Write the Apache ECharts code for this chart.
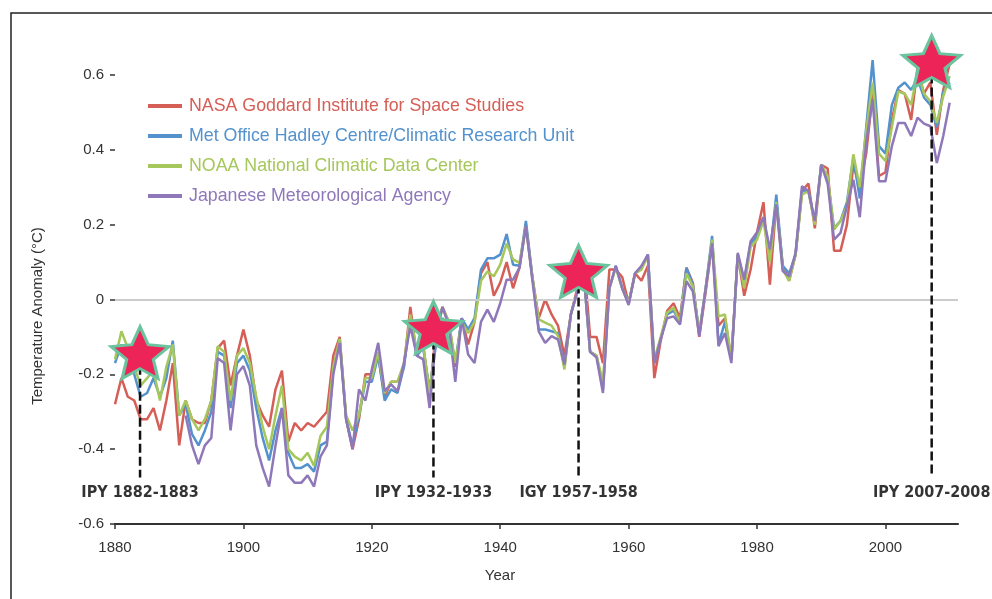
<!DOCTYPE html>
<html><head><meta charset="utf-8">
<script src="https://cdn.jsdelivr.net/npm/echarts@6/dist/echarts.min.js"></script>
<style>html,body{margin:0;padding:0;background:#fff}#c{width:992px;height:599px}</style>
</head><body><div id="c"></div>
<script>
const startYear = 1880;
const seriesNames = ['NASA Goddard Institute for Space Studies','Met Office Hadley Centre/Climatic Research Unit','NOAA National Climatic Data Center','Japanese Meteorological Agency'];
const colors = ['#d55e56','#5492ce','#a6c75b','#8f78ba'];
const nasa = [
-0.28,-0.21,-0.26,-0.27,-0.32,-0.32,-0.29,-0.35,-0.27,-0.17,
-0.39,-0.27,-0.32,-0.33,-0.33,-0.27,-0.13,-0.11,-0.23,-0.15,
-0.08,-0.15,-0.27,-0.31,-0.34,-0.24,-0.19,-0.38,-0.33,-0.35,
-0.33,-0.34,-0.32,-0.30,-0.15,-0.10,-0.32,-0.40,-0.32,-0.20,
-0.20,-0.15,-0.26,-0.22,-0.22,-0.18,-0.02,-0.15,-0.12,-0.26,
-0.08,-0.02,-0.06,-0.18,-0.05,-0.12,-0.06,0.07,0.10,0.01,
0.045,0.10,0.03,0.085,0.20,0.06,-0.05,0.00,-0.04,-0.07,
-0.15,-0.04,0.03,0.11,-0.10,-0.10,-0.17,0.08,0.08,0.06,
-0.01,0.07,0.05,0.09,-0.21,-0.11,-0.03,-0.01,-0.05,0.085,
0.045,-0.10,0.02,0.15,-0.07,-0.05,-0.16,0.12,0.01,0.08,
0.18,0.26,0.04,0.26,0.09,0.05,0.12,0.29,0.31,0.19,
0.36,0.35,0.13,0.13,0.20,0.36,0.30,0.39,0.55,0.33,
0.34,0.48,0.56,0.55,0.48,0.62,0.55,0.58,0.44,0.56,
0.63];
const hadley = [
-0.17,-0.12,-0.16,-0.20,-0.26,-0.25,-0.21,-0.26,-0.21,-0.11,
-0.31,-0.28,-0.36,-0.39,-0.35,-0.30,-0.14,-0.15,-0.29,-0.17,
-0.15,-0.19,-0.29,-0.37,-0.43,-0.35,-0.29,-0.41,-0.45,-0.45,
-0.44,-0.46,-0.39,-0.38,-0.19,-0.11,-0.32,-0.39,-0.31,-0.22,
-0.22,-0.15,-0.27,-0.24,-0.25,-0.18,-0.05,-0.15,-0.13,-0.24,
-0.12,-0.05,-0.07,-0.17,-0.05,-0.08,-0.05,0.08,0.11,0.11,
0.12,0.175,0.093,0.09,0.21,0.062,-0.08,-0.08,-0.085,-0.09,
-0.18,-0.04,0.02,0.07,-0.14,-0.15,-0.24,0.03,0.09,0.03,
-0.01,0.07,0.085,0.12,-0.17,-0.105,-0.04,-0.03,-0.06,0.085,
0.04,-0.09,0.03,0.17,-0.12,-0.06,-0.16,0.12,0.05,0.15,
0.17,0.22,0.12,0.28,0.09,0.07,0.12,0.29,0.29,0.21,
0.36,0.32,0.19,0.21,0.26,0.38,0.27,0.46,0.64,0.41,
0.39,0.52,0.566,0.58,0.56,0.59,0.54,0.52,0.46,0.555,
0.58];
const noaa = [
-0.16,-0.085,-0.13,-0.18,-0.23,-0.21,-0.19,-0.27,-0.18,-0.12,
-0.31,-0.27,-0.32,-0.35,-0.32,-0.27,-0.125,-0.14,-0.27,-0.15,
-0.13,-0.17,-0.26,-0.34,-0.40,-0.31,-0.23,-0.40,-0.42,-0.43,
-0.41,-0.445,-0.365,-0.34,-0.18,-0.105,-0.31,-0.35,-0.31,-0.21,
-0.21,-0.14,-0.25,-0.22,-0.22,-0.17,-0.04,-0.14,-0.12,-0.25,
-0.10,-0.02,-0.06,-0.17,-0.06,-0.09,-0.06,0.05,0.075,0.062,
0.093,0.15,0.107,0.098,0.196,0.06,-0.053,-0.062,-0.07,-0.098,
-0.187,-0.04,0.02,0.07,-0.14,-0.15,-0.22,0.03,0.085,0.03,
-0.01,0.07,0.08,0.115,-0.16,-0.10,-0.035,-0.022,-0.06,0.07,
0.035,-0.09,0.03,0.16,-0.045,-0.04,-0.16,0.12,0.03,0.14,
0.16,0.21,0.10,0.26,0.08,0.05,0.12,0.28,0.29,0.20,
0.36,0.33,0.187,0.21,0.25,0.388,0.30,0.45,0.58,0.39,
0.37,0.46,0.556,0.55,0.52,0.61,0.55,0.53,0.472,0.543,
0.597];
const jma = [
null,null,null,null,null,null,null,null,null,null,
null,-0.31,-0.39,-0.44,-0.39,-0.37,-0.157,-0.17,-0.35,-0.20,
-0.178,-0.23,-0.39,-0.45,-0.50,-0.39,-0.29,-0.47,-0.49,-0.49,
-0.47,-0.50,-0.42,-0.39,-0.20,-0.116,-0.32,-0.40,-0.24,-0.27,
-0.187,-0.116,-0.245,-0.227,-0.245,-0.17,-0.07,-0.15,-0.16,-0.29,
-0.10,-0.02,-0.07,-0.22,-0.05,-0.147,-0.17,-0.06,-0.027,-0.06,
-0.01,0.053,0.053,0.085,0.196,0.053,-0.085,-0.116,-0.098,-0.107,
-0.174,-0.04,0.02,0.07,-0.14,-0.155,-0.25,0.03,0.09,0.03,
-0.015,0.07,0.09,0.12,-0.17,-0.105,-0.05,-0.045,-0.067,0.049,
0.022,-0.098,0.03,0.15,-0.125,-0.09,-0.17,0.125,0.053,0.156,
0.18,0.22,0.134,0.254,0.076,0.062,0.125,0.303,0.29,0.21,
0.36,0.31,0.16,0.178,0.25,0.32,0.22,0.42,0.535,0.316,
0.316,0.41,0.472,0.472,0.437,0.486,0.47,0.463,0.365,0.437,
0.526];
const eventYears = [1883.9, 1929.6, 1952.2, 2007.2];
const eventValues = [-0.142, -0.075, 0.075, 0.636];
const eventLabels = ['IPY 1882-1883','IPY 1932-1933','IGY 1957-1958','IPY 2007-2008'];
const xTicks = [1880,1900,1920,1940,1960,1980,2000];
const yTicks = [-0.6,-0.4,-0.2,0,0.2,0.4,0.6];

const FONT = '"Liberation Sans", Arial, Helvetica, sans-serif';
const starPath = 'path://M50,0 L63.52,31.39 L97.55,34.55 L71.88,57.11 L79.39,90.45 L50,73 L20.61,90.45 L28.12,57.11 L2.45,34.55 L36.48,31.39 Z';
const dashBottom = -0.476, labelLevel = -0.516;

const toPairs = arr => arr.map((v,i)=>[startYear+i, v]);
const dataSets = [nasa, hadley, noaa, jma];

const series = [];
series.push({type:'line', data:[], silent:true,
  markLine:{silent:true, symbol:['none','none'], label:{show:false},
    lineStyle:{color:'#cccccc', width:2, type:'solid'}, data:[{yAxis:0}], animation:false}});
dataSets.forEach((d,i)=>{
  series.push({name:seriesNames[i], type:'line', data:toPairs(d), showSymbol:false, symbol:'none',
    clip:false, connectNulls:false, lineStyle:{color:colors[i], width:2.5}, itemStyle:{color:colors[i]}, z:2+i});
});
eventYears.forEach((yr,i)=>{
  series.push({type:'line', data:[[yr, eventValues[i]],[yr, dashBottom]], showSymbol:false, symbol:'none', clip:false,
    lineStyle:{color:'#111', width:2.5, type:[9,4]}, z:8, silent:true});
});
series.push({type:'scatter', data:eventYears.map((yr,i)=>[yr, eventValues[i]]), symbol:starPath, symbolSize:[58,52],
  symbolKeepAspect:false, clip:false, z:10,
  itemStyle:{color:'#ed2457', borderColor:'#6bc49d', borderWidth:3, opacity:1}});
series.push({type:'scatter', data:eventYears.map((yr,i)=>[yr, labelLevel]), symbolSize:1, clip:false, z:11,
  itemStyle:{color:'rgba(0,0,0,0)'},
  label:{show:true, position:'inside', formatter:p=>eventLabels[p.dataIndex], color:'#000',
    fontSize:16, fontWeight:'bold', fontFamily:'"DejaVu Sans Condensed","Liberation Sans Narrow",sans-serif'}});

const chart = echarts.init(document.getElementById('c'), null, {renderer:'canvas'});
chart.setOption({
  animation:false,
  backgroundColor:'#fff',
  grid:{left:115, right:34, top:75, bottom:75, containLabel:false},
  legend:{orient:'vertical', left:143, top:92, itemWidth:34, itemHeight:4, itemGap:12, icon:'rect',
    data:seriesNames.map((n,i)=>({name:n, textStyle:{color:colors[i]}})),
    textStyle:{fontSize:17.8, fontFamily:FONT, padding:[0,0,0,2]}},
  xAxis:{type:'value', min:1880, max:2011.3,
    axisLine:{show:true, onZero:false, lineStyle:{color:'#333', width:2}},
    axisTick:{show:true, length:5, customValues:xTicks, lineStyle:{color:'#333', width:1.5}},
    axisLabel:{customValues:xTicks, color:'#333', fontSize:15, margin:16, fontFamily:FONT, formatter:v=>String(v)},
    splitLine:{show:false}},
  yAxis:{type:'value', min:-0.6, max:0.6, interval:0.2,
    axisLine:{show:false},
    axisTick:{show:true, length:5, customValues:yTicks, lineStyle:{color:'#333', width:1.5}},
    axisLabel:{customValues:yTicks, color:'#333', fontSize:15, margin:11, fontFamily:FONT,
      formatter:v=>String(Math.round(v*10)/10)},
    splitLine:{show:false}},
  graphic:[
    {type:'rect', shape:{x:11, y:13, width:1000, height:620}, style:{fill:'none', stroke:'#222', lineWidth:1.5}, silent:true},
    {type:'text', x:500, y:576, style:{text:'Year', fill:'#333', font:'15px '+FONT, align:'center', verticalAlign:'middle'}},
    {type:'text', x:38, y:316, rotation:Math.PI/2, style:{text:'Temperature Anomaly (°C)', fill:'#333', font:'15px '+FONT, align:'center', verticalAlign:'middle'}}
  ],
  series:series
});
</script></body></html>
